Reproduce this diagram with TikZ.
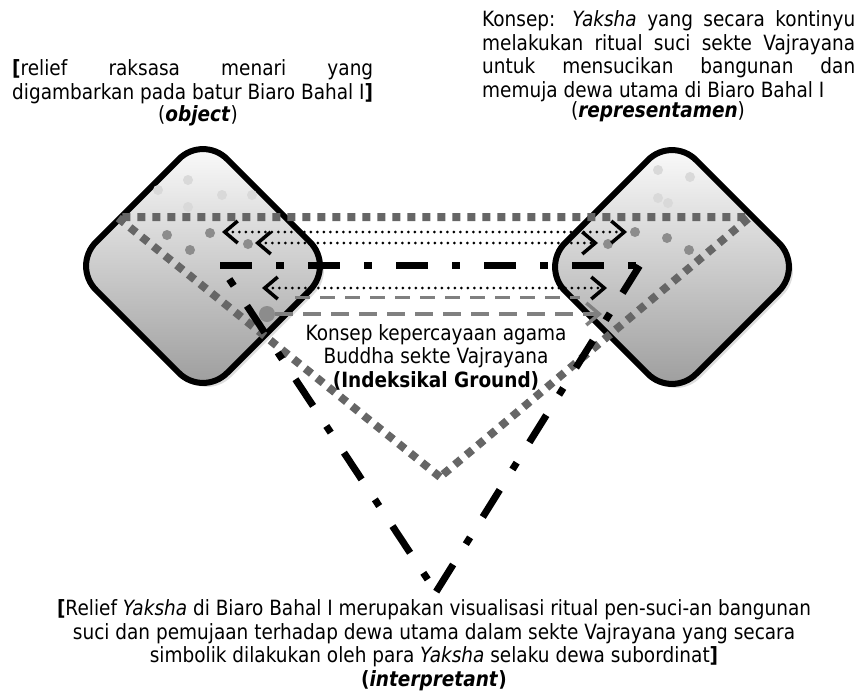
\documentclass[tikz,border=0pt]{standalone}
\usepackage{fontspec}
\setmainfont{DejaVu Sans}[FakeStretch=0.88]
\usetikzlibrary{arrows.meta}
\newcommand\ukuranteks{\fontsize{21}{23.5}\selectfont}

\begin{document}
\begin{tikzpicture}[x=1pt,y=-1pt,
  every node/.style={font=\ukuranteks,inner sep=0pt},
  ketupat/.style={draw=black,line width=6pt,rounded corners=34pt,top color=white,bottom color=black!40},
  bayang/.style={fill=black!13,rounded corners=34pt},
  titikmuda/.style={fill=black!15},
  titikabu/.style={fill=black!45},
  garisabu/.style={draw=black!60,line width=8pt,dash pattern=on 8pt off 7pt},
  garishitam/.style={draw=black,line width=7pt,dash pattern=on 32pt off 24pt on 8pt off 24pt},
  ujung/.tip={Straight Barb[length=13pt,width=22pt,line width=3.5pt]},
  panahtitik/.style={line width=3pt,line cap=round,dash pattern=on 0pt off 6.5pt,ujung-ujung},
  putus/.style={draw=black!50,line width=3pt,dash pattern=on 15pt off 10pt}]
  \useasboundingbox (0,0) rectangle (864,697);
  \fill[bayang] (207,139) -- ++(131,131) -- ++(-131,131) -- ++(-131,-131) -- cycle;
  \fill[bayang] (676,140) -- ++(131,131) -- ++(-131,131) -- ++(-131,-131) -- cycle;
  \draw[ketupat] (203,135) -- ++(131,131) -- ++(-131,131) -- ++(-131,-131) -- cycle;
  \draw[ketupat] (672,136) -- ++(131,131) -- ++(-131,131) -- ++(-131,-131) -- cycle;
  \fill[titikmuda] (188,180) circle (5); \fill[titikmuda] (158,190) circle (5);
  \fill[titikmuda] (222,195) circle (5); \fill[titikmuda] (252,195) circle (5);
  \fill[titikmuda] (188,207) circle (5);
  \fill[titikmuda] (658,170) circle (5); \fill[titikmuda] (690,177) circle (5);
  \fill[titikmuda] (658,198) circle (5); \fill[titikmuda] (668,203) circle (5);
  \fill[titikabu] (167,235) circle (5); \fill[titikabu] (190,250) circle (5);
  \fill[titikabu] (667,238) circle (5); \fill[titikabu] (689,250) circle (5);
  \fill[titikabu] (210,233) circle (5); \fill[titikabu] (248,244) circle (5);
  \fill[titikabu] (635,232) circle (5); \fill[titikabu] (608,244) circle (5);
  \coordinate (ga) at (117,217); \coordinate (gb) at (750,217); \coordinate (gc) at (440,477);
  \coordinate (ha) at (220,265); \coordinate (hb) at (640,265); \coordinate (hc) at (436,592);
  \draw[garisabu] (gc) -- (ga) -- (gb) -- cycle;
  \draw[garishitam] (ha) -- (hb);
  \draw[garishitam,dash phase=87pt] (hb) -- (hc);
  \draw[garishitam,dash phase=41pt] (hc) -- (ha);
  \coordinate (a1k) at (222,232); \coordinate (a1n) at (627,232);
  \coordinate (a2k) at (255,243); \coordinate (a2n) at (598,243);
  \coordinate (a3k) at (262,288); \coordinate (a3n) at (607,288);
  \draw[panahtitik] (a1k) -- (a1n);
  \draw[panahtitik] (a2k) -- (a2n);
  \draw[panahtitik] (a3k) -- (a3n);
  \coordinate (d1k) at (295,297); \coordinate (d1n) at (580,297);
  \draw[putus] (d1k) -- (d1n);
  \node[circle,fill=black!45,minimum size=16pt] (bulat) at (267,314) {};
  \coordinate (d2n) at (602,314);
  \draw[putus,line width=4pt,dash pattern=on 18pt off 10pt,-ujung] (bulat) -- (d2n);
  \node[anchor=west,align=left] (objek) at (12,81.5)
    {\makebox[361pt][s]{\textbf{[}relief raksasa menari yang}\\
     digambarkan pada batur Biaro Bahal I\textbf{]}};
  \node (labelobjek) at (198,116) {(\textbf{\textit{object}})};
  \node[anchor=west,align=left] (repr) at (482,56)
    {\makebox[373pt][s]{Konsep: \textit{Yaksha} yang secara kontinyu}\\
     \makebox[373pt][s]{melakukan ritual suci sekte Vajrayana}\\
     \makebox[373pt][s]{untuk mensucikan bangunan dan}\\
     memuja dewa utama di Biaro Bahal I};
  \node (labelrepr) at (658,112) {(\textbf{\textit{representamen}})};
  \node[align=center] (ground) at (436,357)
    {Konsep kepercayaan agama\\Buddha sekte Vajrayana\\\textbf{(Indeksikal Ground)}};
  \node[align=center] (interp) at (434,645)
    {\textbf{[}Relief \textit{Yaksha} di Biaro Bahal I merupakan visualisasi ritual pen-suci-an bangunan\\
     suci dan pemujaan terhadap dewa utama dalam sekte Vajrayana yang secara\\
     simbolik dilakukan oleh para \textit{Yaksha} selaku dewa subordinat\textbf{]}\\
     \textbf{(\textit{interpretant})}};
\end{tikzpicture}
\end{document}
